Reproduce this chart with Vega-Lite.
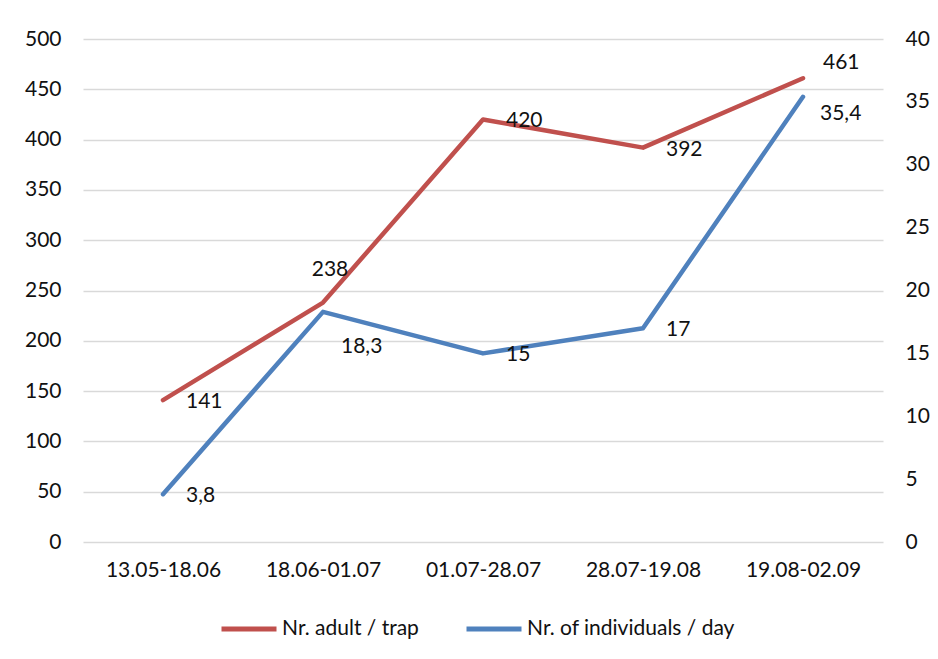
{
  "$schema": "https://vega.github.io/schema/vega-lite/v6.json",
  "width": 800,
  "height": 503,
  "autosize": {"type": "none"},
  "padding": {"left": 83, "top": 39, "right": 55, "bottom": 117},
  "background": "white",
  "config": {
    "font": "Lato",
    "view": {"stroke": null},
    "locale": {"number": {"decimal": ",", "thousands": ".", "grouping": [3], "currency": ["", " €"]}},
    "axis": {"labelFont": "Lato", "labelFontSize": 21, "labelColor": "#111", "domain": false, "ticks": false, "title": null, "gridColor": "#d9d9d9", "gridWidth": 1.5},
    "legend": {"labelFont": "Lato", "labelFontSize": 21, "labelColor": "#111", "labelLimit": 400}
  },
  "data": {
    "values": [
      {"period": "13.05-18.06", "series": "Nr. adult / trap", "value": 141},
      {"period": "18.06-01.07", "series": "Nr. adult / trap", "value": 238},
      {"period": "01.07-28.07", "series": "Nr. adult / trap", "value": 420},
      {"period": "28.07-19.08", "series": "Nr. adult / trap", "value": 392},
      {"period": "19.08-02.09", "series": "Nr. adult / trap", "value": 461},
      {"period": "13.05-18.06", "series": "Nr. of individuals / day", "value": 3.8},
      {"period": "18.06-01.07", "series": "Nr. of individuals / day", "value": 18.3},
      {"period": "01.07-28.07", "series": "Nr. of individuals / day", "value": 15},
      {"period": "28.07-19.08", "series": "Nr. of individuals / day", "value": 17},
      {"period": "19.08-02.09", "series": "Nr. of individuals / day", "value": 35.4}
    ]
  },
  "encoding": {
    "x": {
      "field": "period", "type": "nominal", "sort": null,
      "scale": {"type": "point", "padding": 0.5},
      "axis": {"labelAngle": 0, "labelPadding": 17, "grid": false}
    }
  },
  "layer": [
    {
      "transform": [{"filter": "datum.series == 'Nr. adult / trap'"}],
      "encoding": {
        "y": {
          "field": "value", "type": "quantitative",
          "scale": {"domain": [0, 500], "nice": false},
          "axis": {"orient": "left", "values": [0, 50, 100, 150, 200, 250, 300, 350, 400, 450, 500], "labelPadding": 22, "grid": true}
        }
      },
      "layer": [
        {
          "mark": {"type": "line", "strokeWidth": 4.5, "strokeCap": "round", "strokeJoin": "round"},
          "encoding": {
            "color": {
              "field": "series", "type": "nominal",
              "scale": {"domain": ["Nr. adult / trap", "Nr. of individuals / day"], "range": ["#C0504D", "#4F81BD"]},
              "legend": {"title": null, "orient": "none", "direction": "horizontal", "legendX": 136, "legendY": 560, "symbolType": "stroke", "symbolSize": 3025, "symbolStrokeWidth": 5, "labelOffset": 3, "columnPadding": 37}
            }
          }
        },
        {
          "transform": [{"filter": "datum.period != '18.06-01.07' && datum.period != '19.08-02.09'"}],
          "mark": {"type": "text", "align": "left", "baseline": "middle", "dx": 23, "dy": 2, "fontSize": 21, "color": "#111"},
          "encoding": {"text": {"field": "value", "type": "quantitative", "format": "~g"}}
        },
        {
          "transform": [{"filter": "datum.period == '18.06-01.07'"}],
          "mark": {"type": "text", "align": "center", "baseline": "middle", "dx": 7, "dy": -33, "fontSize": 21, "color": "#111"},
          "encoding": {"text": {"field": "value", "type": "quantitative", "format": "~g"}}
        },
        {
          "transform": [{"filter": "datum.period == '19.08-02.09'"}],
          "mark": {"type": "text", "align": "left", "baseline": "middle", "dx": 20, "dy": -15, "fontSize": 21, "color": "#111"},
          "encoding": {"text": {"field": "value", "type": "quantitative", "format": "~g"}}
        }
      ]
    },
    {
      "transform": [{"filter": "datum.series == 'Nr. of individuals / day'"}],
      "encoding": {
        "y": {
          "field": "value", "type": "quantitative",
          "scale": {"domain": [0, 40], "nice": false},
          "axis": {"orient": "right", "values": [0, 5, 10, 15, 20, 25, 30, 35, 40], "labelPadding": 22, "grid": false}
        }
      },
      "layer": [
        {
          "mark": {"type": "line", "strokeWidth": 4.5, "strokeCap": "round", "strokeJoin": "round"},
          "encoding": {
            "color": {"field": "series", "type": "nominal"}
          }
        },
        {
          "transform": [{"filter": "datum.period != '18.06-01.07' && datum.period != '19.08-02.09'"}],
          "mark": {"type": "text", "align": "left", "baseline": "middle", "dx": 23, "dy": 2, "fontSize": 21, "color": "#111"},
          "encoding": {"text": {"field": "value", "type": "quantitative", "format": "~g"}}
        },
        {
          "transform": [{"filter": "datum.period == '18.06-01.07'"}],
          "mark": {"type": "text", "align": "left", "baseline": "middle", "dx": 18, "dy": 35, "fontSize": 21, "color": "#111"},
          "encoding": {"text": {"field": "value", "type": "quantitative", "format": "~g"}}
        },
        {
          "transform": [{"filter": "datum.period == '19.08-02.09'"}],
          "mark": {"type": "text", "align": "left", "baseline": "middle", "dx": 17, "dy": 17, "fontSize": 21, "color": "#111"},
          "encoding": {"text": {"field": "value", "type": "quantitative", "format": "~g"}}
        }
      ]
    }
  ],
  "resolve": {"scale": {"y": "independent"}}
}
